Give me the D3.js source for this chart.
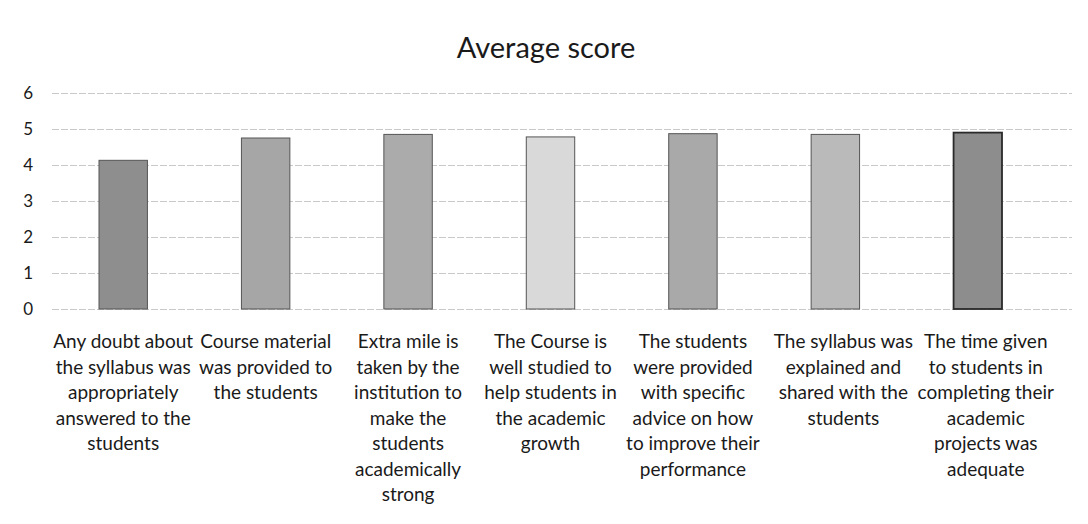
<!DOCTYPE html>
<html><head><meta charset="utf-8">
<script src="https://cdn.jsdelivr.net/npm/d3@7"></script>
<style>body{margin:0;background:#fff}svg{display:block}</style>
</head><body><svg id="c" width="1088" height="524"></svg>
<script>
const title = "Average score";
const categories = [
  "Any doubt about|the syllabus was|appropriately|answered to the|students",
  "Course material|was provided to|the students",
  "Extra mile is|taken by the|institution to|make the|students|academically|strong",
  "The Course is|well studied to|help students in|the academic|growth",
  "The students|were provided|with specific|advice on how|to improve their|performance",
  "The syllabus was|explained and|shared with the|students",
  "The time given|to students in|completing their|academic|projects was|adequate"
];
const values = [4.13, 4.75, 4.85, 4.78, 4.87, 4.85, 4.9];
const yTicks = [0, 1, 2, 3, 4, 5, 6];
const barColors = ["#8e8e8e", "#a6a6a6", "#ababab", "#d9d9d9", "#a9a9a9", "#bababa", "#8d8d8d"];

(function () {
const svg = d3.select("#c");
const mLeft = 52, mRight = 1049, mTop = 93, mBottom = 309;
const x = d3.scaleBand().domain(categories).range([mLeft, mRight]).paddingInner(0.66).paddingOuter(0.33);
const y = d3.scaleLinear().domain([0, 6]).range([mBottom, mTop]);
const font = "Lato, 'Open Sans', sans-serif";

svg.append("text").attr("x", 546).attr("y", 58).attr("text-anchor", "middle")
  .attr("font-family", font).attr("font-size", 29).attr("fill", "#1a1a1a").text(title);

const yAxis = d3.axisLeft(y).tickValues(yTicks).tickSize(-(1072 - mLeft)).tickFormat(d3.format("d"));
const ga = svg.append("g").attr("transform", `translate(${mLeft},0)`).call(yAxis);
ga.select(".domain").remove();
ga.selectAll(".tick line").attr("stroke", "#c9c9c9").attr("stroke-width", 1).attr("stroke-dasharray", "7,2");
ga.selectAll(".tick text").attr("x", -19).attr("font-family", font).attr("font-size", 17).attr("fill", "#1a1a1a");

svg.append("g").selectAll("rect").data(values).join("rect")
  .attr("x", (d, i) => x(categories[i])).attr("width", x.bandwidth())
  .attr("y", d => y(d)).attr("height", d => y(0) - y(d))
  .attr("fill", (d, i) => barColors[i])
  .attr("stroke", (d, i) => i === 6 ? "#2a2a2a" : "#555").attr("stroke-width", (d, i) => i === 6 ? 1.8 : 1);

const lab = svg.append("g").selectAll("text").data(categories).join("text")
  .attr("text-anchor", "middle").attr("font-family", font).attr("font-size", 19).attr("fill", "#1a1a1a")
  .attr("transform", (d, i) => `translate(${x(d) + x.bandwidth() / 2 + (i > 4 ? 8 : 0)},0)`);
lab.selectAll("tspan").data(d => d.split("|")).join("tspan")
  .attr("x", 0).attr("y", (d, i) => 348 + i * 25.5).text(d => d);
})();
</script></body></html>
